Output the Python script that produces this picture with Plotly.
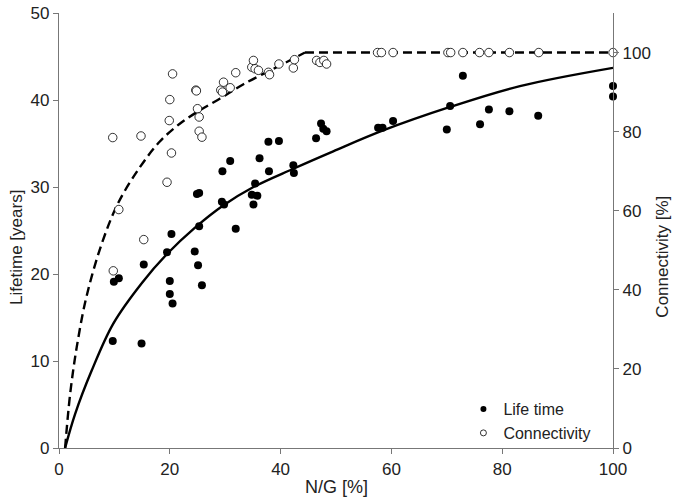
import plotly.graph_objects as go

# scatter data
life_x = [9.7, 14.9, 9.9, 10.8, 15.3, 19.5, 20.3, 20.0, 20.0, 20.5, 24.5, 25.1, 25.8, 25.3,
          24.9, 25.3, 29.4, 29.8, 29.5, 30.9, 31.9, 35.1, 34.8, 35.8, 35.4, 36.2, 37.9, 37.8,
          39.7, 42.3, 42.4, 46.4, 47.3, 47.7, 48.3, 57.6, 58.4, 60.3, 70.0, 70.6, 72.9, 76.0,
          77.6, 81.3, 86.5, 100, 100]
life_y = [12.3, 12.0, 19.1, 19.5, 21.1, 22.5, 24.6, 19.2, 17.7, 16.6, 22.6, 21.0, 18.7, 25.5,
          29.2, 29.3, 28.3, 28.0, 31.8, 33.0, 25.2, 28.0, 29.1, 29.0, 30.4, 33.3, 31.8, 35.2,
          35.3, 32.5, 31.6, 35.6, 37.3, 36.7, 36.4, 36.8, 36.8, 37.6, 36.6, 39.3, 42.8, 37.2,
          38.9, 38.7, 38.2, 41.6, 40.4]

conn_x = [9.7, 9.8, 10.8, 14.8, 15.3, 19.5, 20.3, 19.9, 20.0, 20.5, 24.7, 24.8, 25.0, 25.3,
          25.3, 25.8, 29.2, 29.5, 29.7, 30.9, 31.9, 34.8, 35.1, 35.4, 36.0, 37.8, 38.0, 39.7,
          42.3, 42.5, 46.5, 47.1, 47.8, 48.3, 57.5, 58.2, 60.3, 70.2, 70.7, 72.9, 75.9, 77.6,
          81.3, 86.6, 100]
conn_y = [78.5, 44.8, 60.3, 78.9, 52.7, 67.2, 74.6, 82.8, 88.1, 94.6, 90.5, 90.3, 85.8, 83.7,
          80.1, 78.6, 90.5, 90.0, 92.5, 91.1, 94.9, 96.3, 98.0, 95.9, 95.5, 95.0, 94.4, 97.1,
          96.1, 98.2, 98.0, 97.5, 98.0, 97.1, 100, 100, 100, 100, 100, 100, 100, 100,
          100, 100, 100]

# fitted curves
life_fit_x = [1.1, 2.9, 5.9, 9.8, 15.0, 19.5, 24.5, 29.7, 35.1, 42.3, 49.5, 58.5, 70.6, 83.2, 100]
life_fit_y = [0, 3.9, 8.9, 14.3, 19.0, 22.3, 25.3, 27.9, 30.0, 32.1, 34.1, 36.5, 39.2, 41.6, 43.7]

conn_fit_x = [1.1, 2.0, 3.2, 5.0, 7.8, 10.7, 14.6, 18.2, 21.8, 25.2, 29.1, 33.3, 39.3, 44.4]
conn_fit_y = [0, 13.5, 25.5, 38.5, 52.0, 62.0, 71.0, 77.5, 82.0, 85.2, 88.4, 92.0, 96.3, 100]
conn_flat_x = [44.4, 100]
conn_flat_y = [100, 100]

FONT = 'Liberation Sans, Arial, sans-serif'
DASH = '9px,5px'

fig = go.Figure()
fig.add_scatter(x=life_fit_x, y=life_fit_y, mode='lines', line=dict(color='black', width=2.4, shape='spline'),
                showlegend=False, hoverinfo='skip')
fig.add_scatter(x=conn_fit_x, y=conn_fit_y, mode='lines', yaxis='y2',
                line=dict(color='black', width=2.4, dash=DASH, shape='spline'),
                showlegend=False, hoverinfo='skip')
fig.add_scatter(x=conn_flat_x, y=conn_flat_y, mode='lines', yaxis='y2',
                line=dict(color='black', width=2.4, dash=DASH),
                showlegend=False, hoverinfo='skip')
fig.add_scatter(x=life_x, y=life_y, mode='markers', cliponaxis=False, showlegend=False,
                marker=dict(color='black', size=8))
fig.add_scatter(x=conn_x, y=conn_y, mode='markers', yaxis='y2', cliponaxis=False, showlegend=False,
                marker=dict(color='white', size=8.5, line=dict(color='black', width=0.8)))
# legend entries with the smaller symbols of the original
fig.add_scatter(x=[None], y=[None], mode='markers', name='Life time',
                marker=dict(color='black', size=6))
fig.add_scatter(x=[None], y=[None], mode='markers', name='Connectivity',
                marker=dict(color='white', size=6, line=dict(color='black', width=0.8)))

axis_style = dict(showgrid=False, zeroline=False, showline=True, linecolor='#777', linewidth=1.2,
                  ticks='outside', ticklen=5, tickcolor='#777', automargin=False,
                  ticklabeloverflow='allow',
                  tickfont=dict(family=FONT, size=17, color='#222'))

fig.update_layout(
    width=674, height=501,
    margin=dict(l=59, r=61, t=13, b=53),
    plot_bgcolor='white', paper_bgcolor='white',
    font=dict(family=FONT, size=17, color='#222'),
    xaxis=dict(range=[0, 100], tickvals=[0, 20, 40, 60, 80, 100], **axis_style),
    yaxis=dict(range=[0, 50], tickvals=[0, 10, 20, 30, 40, 50], **axis_style),
    yaxis2=dict(range=[0, 110], tickvals=[0, 20, 40, 60, 80, 100], overlaying='y', side='right',
                **axis_style),
    legend=dict(x=0.730, y=-0.005, xanchor='left', yanchor='bottom', bgcolor='rgba(0,0,0,0)',
                font=dict(family=FONT, size=16, color='#222'), tracegroupgap=0),
    annotations=[
        dict(text='N/G [%]', xref='paper', yref='paper', x=0.5, y=-0.09, showarrow=False,
             xanchor='center', yanchor='middle', font=dict(size=18)),
        dict(text='Lifetime [years]', xref='paper', yref='paper', x=-0.0758, y=0.46, showarrow=False,
             textangle=-90, xanchor='center', yanchor='middle', font=dict(size=17)),
        dict(text='Connectivity [%]', xref='paper', yref='paper', x=1.0903, y=0.44, showarrow=False,
             textangle=-90, xanchor='center', yanchor='middle', font=dict(size=17)),
    ],
)

# drop the default 8px page margin so the figure sits at the window corner
fig.write_html("out.html", config={'displayModeBar': False},
               post_script="document.body.style.margin = '0';")
